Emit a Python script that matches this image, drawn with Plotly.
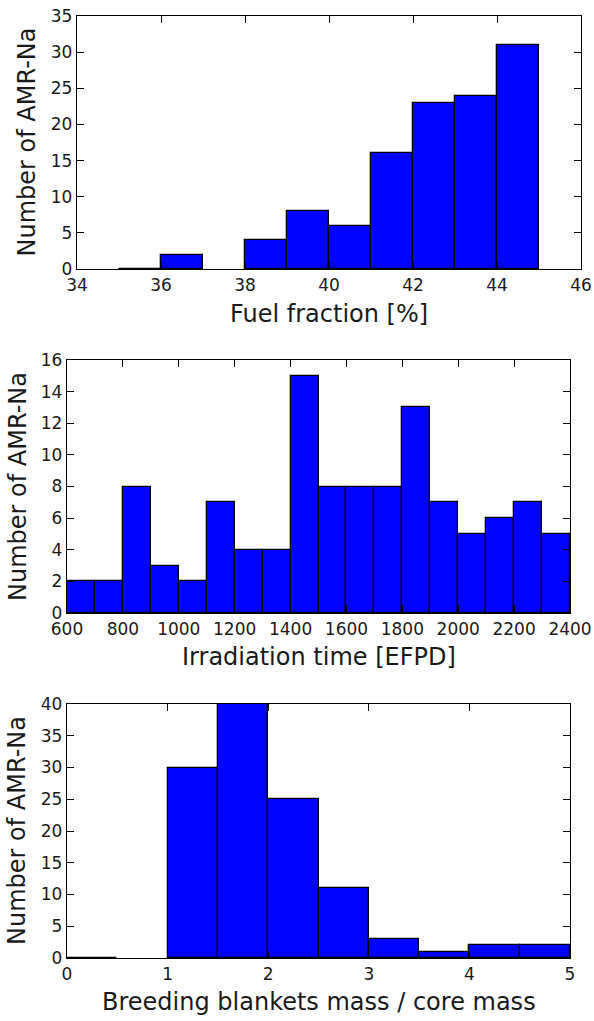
import plotly.graph_objects as go

# ---------------- data ----------------
fuel_edges = [35, 36, 37, 38, 39, 40, 41, 42, 43, 44, 45]
fuel_counts = [0, 2, 0, 4, 8, 6, 16, 23, 24, 31]

irr_edges = [600, 700, 800, 900, 1000, 1100, 1200, 1300, 1400, 1500, 1600,
             1700, 1800, 1900, 2000, 2100, 2200, 2300, 2400]
irr_counts = [2, 2, 8, 3, 2, 7, 4, 4, 15, 8, 8, 8, 13, 7, 5, 6, 7, 5]

bb_edges = [0, 0.5, 1, 1.5, 2, 2.5, 3, 3.5, 4, 4.5, 5]
bb_counts = [0, 0, 30, 40, 25, 11, 3, 1, 2, 2]

x_titles = ["Fuel fraction [%]", "Irradiation time [EFPD]",
            "Breeding blankets mass / core mass"]
y_title = "Number of AMR-Na"

x_ranges = [[34, 46], [600, 2400], [0, 5]]
x_dticks = [2, 200, 1]
y_ranges = [[0, 35], [0, 16], [0, 40]]
y_dticks = [5, 2, 5]

# ---------------- layout geometry (pixels) ----------------
W, H = 594, 1021
boxes = [  # left, right, top, bottom
    (77, 581, 16, 269),
    (67, 570, 360, 613),
    (67, 570, 704, 958),
]
xlab_mid = [314, 657, 1002]
ylab_mid = [27, 18.5, 17]

TXT = "#1a1a1a"
FONT = "DejaVu Sans"

fig = go.Figure()
datasets = [(fuel_edges, fuel_counts), (irr_edges, irr_counts), (bb_edges, bb_counts)]

for i, (edges, counts) in enumerate(datasets):
    centers = [(edges[k] + edges[k + 1]) / 2 for k in range(len(counts))]
    widths = [edges[k + 1] - edges[k] for k in range(len(counts))]
    # only the first empty bin shows an outline in the reference
    lw = [0 if (c == 0 and k > 0) else 1.3 for k, c in enumerate(counts)]
    sfx = "" if i == 0 else str(i + 1)
    fig.add_trace(go.Bar(
        x=centers, y=counts, width=widths,
        marker=dict(color="#0000ff", line=dict(color="black", width=lw)),
        xaxis="x" + sfx, yaxis="y" + sfx, showlegend=False,
    ))
    l, r, t, b = boxes[i]
    axis_common = dict(
        showline=True, linecolor="black", linewidth=1.3, mirror="allticks",
        ticks="inside", ticklen=7, tickwidth=1, tickcolor="black",
        showgrid=False, zeroline=False, automargin=False,
        tickfont=dict(family=FONT, size=17, color=TXT),
    )
    fig.update_layout(**{
        "xaxis" + sfx: dict(domain=[l / W, r / W], range=x_ranges[i],
                            dtick=x_dticks[i], tick0=0,
                            anchor="y" + sfx, **axis_common),
        "yaxis" + sfx: dict(domain=[1 - b / H, 1 - t / H], range=y_ranges[i],
                            dtick=y_dticks[i], tick0=0,
                            anchor="x" + sfx, **axis_common),
    })
    fig.add_annotation(text=x_titles[i], xref="paper", yref="paper",
                       x=(l + r) / 2 / W, y=1 - xlab_mid[i] / H,
                       xanchor="center", yanchor="middle", showarrow=False,
                       font=dict(family=FONT, size=24, color=TXT))
    fig.add_annotation(text=y_title, xref="paper", yref="paper",
                       x=ylab_mid[i] / W, y=1 - (t + b) / 2 / H,
                       xanchor="center", yanchor="middle", showarrow=False,
                       textangle=-90,
                       font=dict(family=FONT, size=24, color=TXT))

fig.update_layout(
    width=W, height=H, margin=dict(l=0, r=0, t=0, b=0, autoexpand=False),
    paper_bgcolor="white", plot_bgcolor="white", bargap=0,
)

fig.write_html("out.html")
